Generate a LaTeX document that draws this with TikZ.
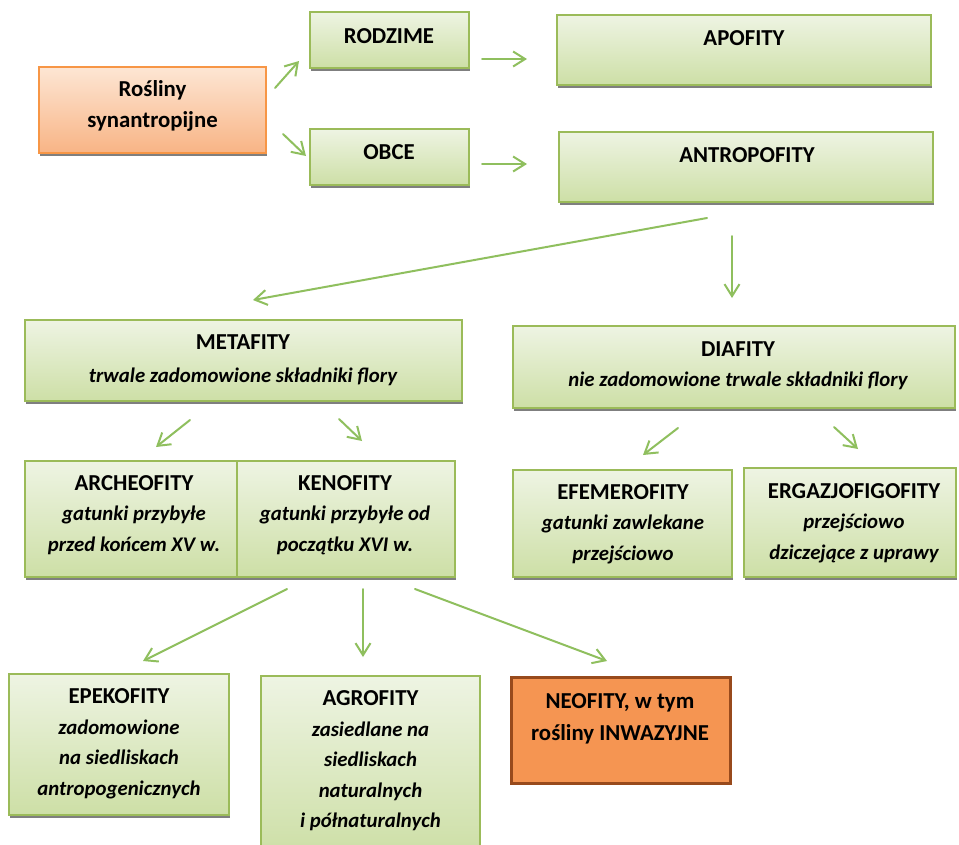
\documentclass[tikz,border=0pt]{standalone}
\usepackage{fontspec}
\setmainfont{Carlito}[BoldItalicFont={Carlito Bold Italic}]
\usetikzlibrary{arrows.meta,shadows}
\definecolor{gborder}{HTML}{9BBB59}
\definecolor{gtop}{HTML}{EEF4E3}
\definecolor{gbot}{HTML}{CDDFA6}
\definecolor{garrow}{HTML}{8FBF5E}
\definecolor{otop}{HTML}{FDE6D4}
\definecolor{obot}{HTML}{F8B485}
\definecolor{oborder}{HTML}{F79646}
\definecolor{neofill}{HTML}{F59552}
\definecolor{neoborder}{HTML}{984A1C}
\definecolor{shad}{HTML}{7F7F7F}
\newcommand{\sub}[1]{{\fontsize{20.8}{30.5}\selectfont\bfseries\itshape #1}}
\tikzset{
  gbox/.style={rectangle, draw=gborder, line width=1.2pt, top color=gtop, bottom color=gbot,
    inner sep=0pt, outer sep=0pt,
    drop shadow={shadow xshift=0.6pt, shadow yshift=-3pt, fill=shad, opacity=1}},
  obox/.style={gbox, draw=oborder, top color=otop, bottom color=obot},
  nbox/.style={rectangle, draw=neoborder, line width=3.5pt, fill=neofill, inner sep=0pt, outer sep=0pt},
  txt/.style={align=center, inner sep=0pt, font=\fontsize{22.8}{30.5}\selectfont\bfseries},
  arr/.style={draw=garrow, line width=2pt, line cap=round, line join=round,
    -{Straight Barb[length=12pt,width=15pt]}},
}
\begin{document}
\begin{tikzpicture}[x=1pt,y=-1pt]
\useasboundingbox (0,0) rectangle (959,844);
\clip (0,0) rectangle (959,844);
\fill[white] (0,0) rectangle (959,844);
% boxes
\node[obox, minimum width=227pt, minimum height=86pt] (ros) at (152.5,110) {};
\node[gbox, minimum width=159pt, minimum height=56pt] (rod) at (389.5,40) {};
\node[gbox, minimum width=159pt, minimum height=56pt] (obc) at (389.5,157) {};
\node[gbox, minimum width=374pt, minimum height=70pt] (apo) at (744,50) {};
\node[gbox, minimum width=374pt, minimum height=70pt] (ant) at (746,167) {};
\node[gbox, minimum width=437pt, minimum height=81pt] (met) at (243.5,360.5) {};
\node[gbox, minimum width=442pt, minimum height=82pt] (dia) at (734,367) {};
\node[gbox, minimum width=212pt, minimum height=116pt] (arc) at (131,519) {};
\node[gbox, minimum width=218pt, minimum height=116pt] (ken) at (346,519) {};
\node[gbox, minimum width=219pt, minimum height=107pt] (efe) at (622.5,523.5) {};
\node[gbox, minimum width=212pt, minimum height=109pt] (erg) at (850,522.5) {};
\node[gbox, minimum width=220pt, minimum height=141pt] (epe) at (119,744.5) {};
\node[gbox, minimum width=219pt, minimum height=179pt] (agr) at (370.5,765.5) {};
\node[nbox, minimum width=219pt, minimum height=106pt] (neo) at (621,730.5) {};
% texts
\node[txt] (rosT) at (152.5,106) {Rośliny\\synantropijne};
\node[txt] (rodT) at (389,36) {RODZIME};
\node[txt] (obcT) at (389,152) {OBCE};
\node[txt] (apoT) at (744,38) {APOFITY};
\node[txt] (antT) at (747,155) {ANTROPOFITY};
\node[txt] (metT) at (243,360) {METAFITY\\[2pt]\sub{trwale zadomowione składniki flory}};
\node[txt] (diaT) at (738,365.5) {DIAFITY\\\sub{nie zadomowione trwale składniki flory}};
\node[txt] (arcT) at (134,515) {ARCHEOFITY\\\sub{gatunki przybyłe}\\\sub{przed końcem XV w.}};
\node[txt] (kenT) at (345,515) {KENOFITY\\\sub{gatunki przybyłe od}\\\sub{początku XVI w.}};
\node[txt] (efeT) at (623,524) {EFEMEROFITY\\\sub{gatunki zawlekane}\\\sub{przejściowo}};
\node[txt] (ergT) at (854,523) {ERGAZJOFIGOFITY\\\sub{przejściowo}\\\sub{dziczejące z uprawy}};
\node[txt] (epeT) at (119,744) {EPEKOFITY\\\sub{zadomowione}\\\sub{na siedliskach}\\\sub{antropogenicznych}};
\node[txt] (agrT) at (370.5,761) {AGROFITY\\\sub{zasiedlane na}\\\sub{siedliskach}\\\sub{naturalnych}\\\sub{i półnaturalnych}};
\node[txt] (neoT) at (620,719) {NEOFITY, w tym\\[2pt]rośliny INWAZYJNE};
% arrow end points
\coordinate (a1s) at (275,88);  \coordinate (a1e) at (299,61);
\coordinate (a2s) at (283,134); \coordinate (a2e) at (306,156);
\coordinate (a3s) at (482,59);  \coordinate (a3e) at (527,59);
\coordinate (a4s) at (482,164); \coordinate (a4e) at (527,164);
\coordinate (a5s) at (707,218); \coordinate (a5e) at (253,300);
\coordinate (a6s) at (732,236); \coordinate (a6e) at (732,298);
\coordinate (a7s) at (190,420); \coordinate (a7e) at (156,447);
\coordinate (a8s) at (339,419); \coordinate (a8e) at (362,441);
\coordinate (a9s) at (678,428); \coordinate (a9e) at (643,455);
\coordinate (a10s) at (834,427); \coordinate (a10e) at (858,449);
\coordinate (a11s) at (287,589); \coordinate (a11e) at (143,661);
\coordinate (a12s) at (363,589); \coordinate (a12e) at (363,657);
\coordinate (a13s) at (415,589); \coordinate (a13e) at (607,661);
\draw[arr] (a1s) -- (a1e);
\draw[arr] (a2s) -- (a2e);
\draw[arr] (a3s) -- (a3e);
\draw[arr] (a4s) -- (a4e);
\draw[arr] (a5s) -- (a5e);
\draw[arr] (a6s) -- (a6e);
\draw[arr] (a7s) -- (a7e);
\draw[arr] (a8s) -- (a8e);
\draw[arr] (a9s) -- (a9e);
\draw[arr] (a10s) -- (a10e);
\draw[arr] (a11s) -- (a11e);
\draw[arr] (a12s) -- (a12e);
\draw[arr] (a13s) -- (a13e);
\end{tikzpicture}
\end{document}
